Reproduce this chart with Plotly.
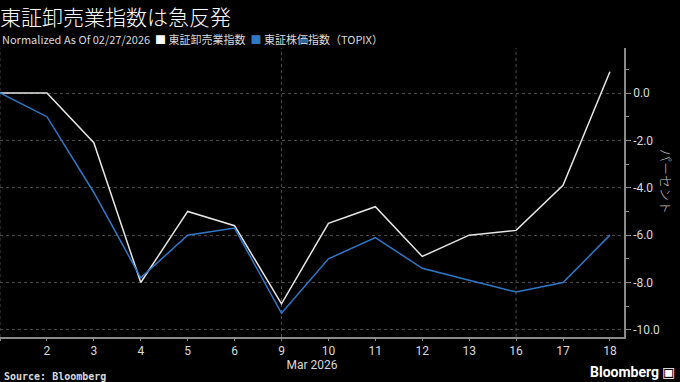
import plotly.graph_objects as go

categories = ["2/27", "3/2", "3/3", "3/4", "3/5", "3/6", "3/9", "3/10", "3/11",
              "3/12", "3/13", "3/16", "3/17", "3/18"]
tick_labels = ["", "2", "3", "4", "5", "6", "9", "10", "11", "12", "13", "16", "17", "18"]
wholesale = [0.0, 0.0, -2.1, -8.0, -5.0, -5.6, -8.9, -5.5, -4.8, -6.9, -6.0, -5.8, -3.9, 0.9]
topix = [0.0, -1.0, -4.2, -7.8, -6.0, -5.7, -9.3, -7.0, -6.1, -7.4, -7.9, -8.4, -8.0, -6.0]
y_ticks = [0, -2, -4, -6, -8, -10]
y_tick_labels = ["0.0", "-2.0", "-4.0", "-6.0", "-8.0", "-10.0"]
week_starts = ["2/27", "3/9", "3/16"]

JP = "Noto Sans CJK JP"
NUM = "Roboto, " + JP
TXT = "#d9d9d9"

fig = go.Figure()
fig.add_trace(go.Scatter(x=categories, y=wholesale, mode="lines",
                         line=dict(color="#e6e6e6", width=1.5), name="東証卸売業指数"))
fig.add_trace(go.Scatter(x=categories, y=topix, mode="lines",
                         line=dict(color="#2f78c8", width=1.5), name="東証株価指数（TOPIX）"))

for c in week_starts:
    fig.add_shape(type="line", xref="x", yref="paper", x0=c, x1=c, y0=0, y1=1,
                  line=dict(color="#4a4a4a", width=1, dash="dot"), layer="below")

fig.update_layout(
    width=680, height=382,
    paper_bgcolor="black", plot_bgcolor="black",
    margin=dict(l=0, r=56, t=48, b=45),
    showlegend=False,
    font=dict(family=JP, color=TXT, size=12),
    xaxis=dict(
        type="category", range=[0, 13.3],
        tickvals=categories, ticktext=tick_labels,
        showgrid=False, showline=True, linecolor="#8a8a8a", linewidth=1.5,
        ticks="outside", ticklen=2, tickcolor="#8a8a8a",
        tickfont=dict(family=NUM, size=12, color=TXT),
        zeroline=False,
        title=dict(text="Mar 2026", font=dict(family=NUM, size=12, color=TXT), standoff=0),
    ),
    yaxis=dict(
        side="right", range=[-10.3, 1.9],
        tickvals=y_ticks, ticktext=y_tick_labels,
        showgrid=True, gridcolor="#4a4a4a", griddash="dot", gridwidth=1,
        showline=True, linecolor="#8a8a8a", linewidth=1.5,
        ticks="outside", ticklen=5, tickcolor="#8a8a8a",
        minor=dict(dtick=1, ticks="outside", ticklen=3, tickcolor="#8a8a8a", showgrid=False),
        tickfont=dict(family=NUM, size=12, color=TXT),
        zeroline=False,
    ),
)

fig.add_annotation(text="東証卸売業指数は急反発", xref="paper", yref="paper", x=0, y=1,
                   xanchor="left", yanchor="bottom", xshift=-2, yshift=15,
                   showarrow=False, font=dict(family=JP, size=21, color="white", weight=300))
fig.add_annotation(
    text="Normalized As Of 02/27/2026  <span style='color:#ffffff'>■</span> 東証卸売業指数  "
         "<span style='color:#2f78c8'>■</span> 東証株価指数（TOPIX）",
    xref="paper", yref="paper", x=0, y=1, xanchor="left", yanchor="bottom",
    xshift=0, yshift=-1, showarrow=False, font=dict(family=JP, size=11, color=TXT))
fig.add_annotation(text="パーセント", xref="paper", yref="paper", x=1, y=0.54,
                   xanchor="center", yanchor="middle", xshift=42, textangle=90,
                   showarrow=False, font=dict(family=JP, size=13, color="#bbbbbb", weight=300))
fig.add_annotation(text="<b>Source: Bloomberg</b>", xref="paper", yref="paper", x=0, y=0,
                   xanchor="left", yanchor="top", xshift=2, yshift=-32,
                   showarrow=False, font=dict(family="DejaVu Sans Mono", size=10, color=TXT))
fig.add_annotation(text="<b>Bloomberg</b> ▣", xref="paper", yref="paper", x=1, y=0,
                   xanchor="right", yanchor="top", xshift=54, yshift=-25,
                   showarrow=False, font=dict(family="Roboto", size=14, color="white"))

fig.write_html("out.html", config={"displayModeBar": False},
               post_script="document.body.style.margin='0';document.body.style.background='black';")
